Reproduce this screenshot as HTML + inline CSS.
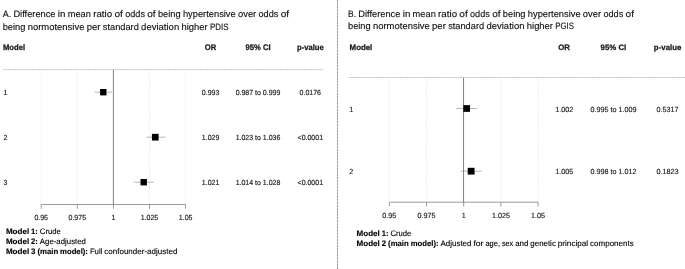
<!DOCTYPE html>
<html lang="en"><head><meta charset="utf-8"><title>Forest plots</title>
<style>
html,body{margin:0;padding:0;background:#fff;}
body{width:685px;height:269px;overflow:hidden;}
svg{display:block;font-family:"Liberation Sans", Arial, Helvetica, sans-serif;text-rendering:geometricPrecision;}
.c{stroke:#000;stroke-width:0.12px;}
.h{stroke:#1a1a1a;stroke-width:0.25px;}
.b{stroke:#1a1a1a;stroke-width:0.15px;}
</style></head>
<body>
<svg width="685" height="269" viewBox="0 0 685 269">
<rect width="685" height="269" fill="#fff"/>
<text class="c" y="17.3" font-size="9.25" fill="#111" xml:space="preserve"><tspan x="2.70" textLength="8.44" lengthAdjust="spacingAndGlyphs">A.</tspan> <tspan x="13.42" textLength="42.12" lengthAdjust="spacingAndGlyphs">Difference</tspan> <tspan x="57.83" textLength="7.61" lengthAdjust="spacingAndGlyphs">in</tspan> <tspan x="67.72" textLength="23.20" lengthAdjust="spacingAndGlyphs">mean</tspan> <tspan x="93.20" textLength="18.98" lengthAdjust="spacingAndGlyphs">ratio</tspan> <tspan x="114.47" textLength="8.39" lengthAdjust="spacingAndGlyphs">of</tspan> <tspan x="125.14" textLength="19.86" lengthAdjust="spacingAndGlyphs">odds</tspan> <tspan x="147.28" textLength="8.39" lengthAdjust="spacingAndGlyphs">of</tspan> <tspan x="157.95" textLength="22.67" lengthAdjust="spacingAndGlyphs">being</tspan> <tspan x="182.90" textLength="52.80" lengthAdjust="spacingAndGlyphs">hypertensive</tspan> <tspan x="237.98" textLength="18.27" lengthAdjust="spacingAndGlyphs">over</tspan> <tspan x="258.53" textLength="19.86" lengthAdjust="spacingAndGlyphs">odds</tspan> <tspan x="280.67" textLength="8.39" lengthAdjust="spacingAndGlyphs">of</tspan></text>
<text class="c" y="29.5" font-size="9.25" fill="#111" xml:space="preserve"><tspan x="2.70" textLength="22.67" lengthAdjust="spacingAndGlyphs">being</tspan> <tspan x="27.65" textLength="56.80" lengthAdjust="spacingAndGlyphs">normotensive</tspan> <tspan x="86.73" textLength="13.83" lengthAdjust="spacingAndGlyphs">per</tspan> <tspan x="102.84" textLength="36.00" lengthAdjust="spacingAndGlyphs">standard</tspan> <tspan x="141.12" textLength="38.09" lengthAdjust="spacingAndGlyphs">deviation</tspan> <tspan x="181.50" textLength="26.19" lengthAdjust="spacingAndGlyphs">higher</tspan> <tspan x="209.97" textLength="18.58" lengthAdjust="spacingAndGlyphs">PDIS</tspan></text>
<text class="h" transform="translate(3.0 50.15) scale(1 1.06)" font-size="7.65" font-weight="bold" text-anchor="start" fill="#1a1a1a">Model</text>
<text class="h" transform="translate(210.5 50.15) scale(1 1.06)" font-size="7.65" font-weight="bold" text-anchor="middle" fill="#1a1a1a">OR</text>
<text class="h" transform="translate(258 50.15) scale(1 1.06)" font-size="7.65" font-weight="bold" text-anchor="middle" fill="#1a1a1a">95% CI</text>
<text class="h" transform="translate(310.4 50.15) scale(1 1.06)" font-size="7.65" font-weight="bold" text-anchor="middle" fill="#1a1a1a">p-value</text>
<line x1="3.0" y1="69.6" x2="323.3" y2="69.6" stroke="#999" stroke-width="0.7" stroke-dasharray="1.1 0.6"/>
<line x1="41.20" y1="70" x2="41.20" y2="204.2" stroke="#dadada" stroke-width="0.5" stroke-dasharray="0.6 0.5"/>
<line x1="77.30" y1="70" x2="77.30" y2="204.2" stroke="#dadada" stroke-width="0.5" stroke-dasharray="0.6 0.5"/>
<line x1="149.50" y1="70" x2="149.50" y2="204.2" stroke="#dadada" stroke-width="0.5" stroke-dasharray="0.6 0.5"/>
<line x1="185.60" y1="70" x2="185.60" y2="204.2" stroke="#dadada" stroke-width="0.5" stroke-dasharray="0.6 0.5"/>
<line x1="113.4" y1="70" x2="113.4" y2="204.2" stroke="#747474" stroke-width="0.9"/>
<line x1="41.20" y1="204.5" x2="185.60" y2="204.5" stroke="#7a7a7a" stroke-width="0.75"/>
<line x1="41.20" y1="204.5" x2="41.20" y2="208.8" stroke="#7a7a7a" stroke-width="0.75"/>
<text class="b" transform="translate(41.20 220.3) scale(1 1.06)" font-size="7.0" font-weight="normal" text-anchor="middle" fill="#1a1a1a">0.95</text>
<line x1="77.30" y1="204.5" x2="77.30" y2="208.8" stroke="#7a7a7a" stroke-width="0.75"/>
<text class="b" transform="translate(77.30 220.3) scale(1 1.06)" font-size="7.0" font-weight="normal" text-anchor="middle" fill="#1a1a1a">0.975</text>
<line x1="113.40" y1="204.5" x2="113.40" y2="208.8" stroke="#7a7a7a" stroke-width="0.75"/>
<text class="b" transform="translate(113.40 220.3) scale(1 1.06)" font-size="7.0" font-weight="normal" text-anchor="middle" fill="#1a1a1a">1</text>
<line x1="149.50" y1="204.5" x2="149.50" y2="208.8" stroke="#7a7a7a" stroke-width="0.75"/>
<text class="b" transform="translate(149.50 220.3) scale(1 1.06)" font-size="7.0" font-weight="normal" text-anchor="middle" fill="#1a1a1a">1.025</text>
<line x1="185.60" y1="204.5" x2="185.60" y2="208.8" stroke="#7a7a7a" stroke-width="0.75"/>
<text class="b" transform="translate(185.60 220.3) scale(1 1.06)" font-size="7.0" font-weight="normal" text-anchor="middle" fill="#1a1a1a">1.05</text>
<text class="b" transform="translate(3.5 94.7) scale(1 1.06)" font-size="7.0" font-weight="normal" text-anchor="start" fill="#1a1a1a">1</text>
<line x1="94.63" y1="92.2" x2="111.96" y2="92.2" stroke="#7c7c7c" stroke-width="0.55"/>
<rect x="100.09" y="89.00" width="6.4" height="6.4" fill="#000"/>
<text class="b" transform="translate(210.6 94.7) scale(1 1.06)" font-size="7.0" font-weight="normal" text-anchor="middle" fill="#1a1a1a">0.993</text>
<text class="b" transform="translate(258 94.7) scale(1 1.06)" font-size="7.0" font-weight="normal" text-anchor="middle" fill="#1a1a1a">0.987 to 0.999</text>
<text class="b" transform="translate(310.3 94.7) scale(1 1.06)" font-size="7.0" font-weight="normal" text-anchor="middle" fill="#1a1a1a">0.0176</text>
<text class="b" transform="translate(3.5 139.7) scale(1 1.06)" font-size="7.0" font-weight="normal" text-anchor="start" fill="#1a1a1a">2</text>
<line x1="146.61" y1="137.2" x2="165.38" y2="137.2" stroke="#7c7c7c" stroke-width="0.55"/>
<rect x="151.93" y="133.85" width="6.7" height="6.7" fill="#000"/>
<text class="b" transform="translate(210.6 139.7) scale(1 1.06)" font-size="7.0" font-weight="normal" text-anchor="middle" fill="#1a1a1a">1.029</text>
<text class="b" transform="translate(258 139.7) scale(1 1.06)" font-size="7.0" font-weight="normal" text-anchor="middle" fill="#1a1a1a">1.023 to 1.036</text>
<text class="b" transform="translate(310.3 139.7) scale(1 1.06)" font-size="7.0" font-weight="normal" text-anchor="middle" fill="#1a1a1a">&lt;0.0001</text>
<text class="b" transform="translate(3.5 184.7) scale(1 1.06)" font-size="7.0" font-weight="normal" text-anchor="start" fill="#1a1a1a">3</text>
<line x1="133.62" y1="182.2" x2="153.83" y2="182.2" stroke="#7c7c7c" stroke-width="0.55"/>
<rect x="140.52" y="179.00" width="6.4" height="6.4" fill="#000"/>
<text class="b" transform="translate(210.6 184.7) scale(1 1.06)" font-size="7.0" font-weight="normal" text-anchor="middle" fill="#1a1a1a">1.021</text>
<text class="b" transform="translate(258 184.7) scale(1 1.06)" font-size="7.0" font-weight="normal" text-anchor="middle" fill="#1a1a1a">1.014 to 1.028</text>
<text class="b" transform="translate(310.3 184.7) scale(1 1.06)" font-size="7.0" font-weight="normal" text-anchor="middle" fill="#1a1a1a">&lt;0.0001</text>
<text class="c" y="234.2" font-size="7.95" fill="#000" xml:space="preserve"><tspan x="5.90" textLength="23.27" lengthAdjust="spacingAndGlyphs" font-weight="bold">Model</tspan> <tspan x="31.12" textLength="6.77" lengthAdjust="spacingAndGlyphs" font-weight="bold">1:</tspan> <tspan x="39.84" textLength="20.97" lengthAdjust="spacingAndGlyphs">Crude</tspan></text>
<text class="c" y="244.1" font-size="7.95" fill="#000" xml:space="preserve"><tspan x="5.90" textLength="23.27" lengthAdjust="spacingAndGlyphs" font-weight="bold">Model</tspan> <tspan x="31.12" textLength="6.77" lengthAdjust="spacingAndGlyphs" font-weight="bold">2:</tspan> <tspan x="39.84" textLength="46.08" lengthAdjust="spacingAndGlyphs">Age-adjusted</tspan></text>
<text class="c" y="254.0" font-size="7.95" fill="#000" xml:space="preserve"><tspan x="5.90" textLength="23.27" lengthAdjust="spacingAndGlyphs" font-weight="bold">Model</tspan> <tspan x="31.12" textLength="4.38" lengthAdjust="spacingAndGlyphs" font-weight="bold">3</tspan> <tspan x="37.45" textLength="20.72" lengthAdjust="spacingAndGlyphs" font-weight="bold">(main</tspan> <tspan x="60.12" textLength="27.81" lengthAdjust="spacingAndGlyphs" font-weight="bold">model):</tspan> <tspan x="89.88" textLength="12.47" lengthAdjust="spacingAndGlyphs">Full</tspan> <tspan x="104.31" textLength="73.05" lengthAdjust="spacingAndGlyphs">confounder-adjusted</tspan></text>
<line x1="337.5" y1="0" x2="337.5" y2="269" stroke="#7c7c7c" stroke-width="0.8" stroke-dasharray="2.4 0.7"/>
<text class="c" y="16.85" font-size="9.25" fill="#111" xml:space="preserve"><tspan x="348.00" textLength="8.03" lengthAdjust="spacingAndGlyphs">B.</tspan> <tspan x="358.31" textLength="42.12" lengthAdjust="spacingAndGlyphs">Difference</tspan> <tspan x="402.72" textLength="7.61" lengthAdjust="spacingAndGlyphs">in</tspan> <tspan x="412.61" textLength="23.20" lengthAdjust="spacingAndGlyphs">mean</tspan> <tspan x="438.09" textLength="18.98" lengthAdjust="spacingAndGlyphs">ratio</tspan> <tspan x="459.36" textLength="8.39" lengthAdjust="spacingAndGlyphs">of</tspan> <tspan x="470.03" textLength="19.86" lengthAdjust="spacingAndGlyphs">odds</tspan> <tspan x="492.17" textLength="8.39" lengthAdjust="spacingAndGlyphs">of</tspan> <tspan x="502.84" textLength="22.67" lengthAdjust="spacingAndGlyphs">being</tspan> <tspan x="527.80" textLength="52.80" lengthAdjust="spacingAndGlyphs">hypertensive</tspan> <tspan x="582.88" textLength="18.27" lengthAdjust="spacingAndGlyphs">over</tspan> <tspan x="603.42" textLength="19.86" lengthAdjust="spacingAndGlyphs">odds</tspan> <tspan x="625.56" textLength="8.39" lengthAdjust="spacingAndGlyphs">of</tspan></text>
<text class="c" y="28.95" font-size="9.25" fill="#111" xml:space="preserve"><tspan x="348.00" textLength="22.67" lengthAdjust="spacingAndGlyphs">being</tspan> <tspan x="372.95" textLength="56.80" lengthAdjust="spacingAndGlyphs">normotensive</tspan> <tspan x="432.03" textLength="13.83" lengthAdjust="spacingAndGlyphs">per</tspan> <tspan x="448.14" textLength="36.00" lengthAdjust="spacingAndGlyphs">standard</tspan> <tspan x="486.42" textLength="38.09" lengthAdjust="spacingAndGlyphs">deviation</tspan> <tspan x="526.80" textLength="26.19" lengthAdjust="spacingAndGlyphs">higher</tspan> <tspan x="555.27" textLength="18.73" lengthAdjust="spacingAndGlyphs">PGIS</tspan></text>
<text class="h" transform="translate(349.6 49.65) scale(1 1.0)" font-size="7.85" font-weight="bold" text-anchor="start" fill="#1a1a1a">Model</text>
<text class="h" transform="translate(564.1 49.65) scale(1 1.0)" font-size="7.85" font-weight="bold" text-anchor="middle" fill="#1a1a1a">OR</text>
<text class="h" transform="translate(613.4 49.65) scale(1 1.0)" font-size="7.85" font-weight="bold" text-anchor="middle" fill="#1a1a1a">95% CI</text>
<text class="h" transform="translate(667.6 49.65) scale(1 1.0)" font-size="7.85" font-weight="bold" text-anchor="middle" fill="#1a1a1a">p-value</text>
<line x1="349.0" y1="77.5" x2="685" y2="77.5" stroke="#999" stroke-width="0.7" stroke-dasharray="1.1 0.6"/>
<line x1="389.30" y1="78" x2="389.30" y2="202.2" stroke="#dadada" stroke-width="0.5" stroke-dasharray="0.6 0.5"/>
<line x1="426.50" y1="78" x2="426.50" y2="202.2" stroke="#dadada" stroke-width="0.5" stroke-dasharray="0.6 0.5"/>
<line x1="500.90" y1="78" x2="500.90" y2="202.2" stroke="#dadada" stroke-width="0.5" stroke-dasharray="0.6 0.5"/>
<line x1="538.10" y1="78" x2="538.10" y2="202.2" stroke="#dadada" stroke-width="0.5" stroke-dasharray="0.6 0.5"/>
<line x1="463.55" y1="78" x2="463.55" y2="202.2" stroke="#747474" stroke-width="0.9"/>
<line x1="389.30" y1="202.2" x2="538.10" y2="202.2" stroke="#7a7a7a" stroke-width="0.75"/>
<line x1="389.30" y1="202.2" x2="389.30" y2="206.39999999999998" stroke="#7a7a7a" stroke-width="0.75"/>
<text class="b" transform="translate(389.30 218.1) scale(1 1.03)" font-size="7.2" font-weight="normal" text-anchor="middle" fill="#1a1a1a">0.95</text>
<line x1="426.50" y1="202.2" x2="426.50" y2="206.39999999999998" stroke="#7a7a7a" stroke-width="0.75"/>
<text class="b" transform="translate(426.50 218.1) scale(1 1.03)" font-size="7.2" font-weight="normal" text-anchor="middle" fill="#1a1a1a">0.975</text>
<line x1="463.70" y1="202.2" x2="463.70" y2="206.39999999999998" stroke="#7a7a7a" stroke-width="0.75"/>
<text class="b" transform="translate(463.70 218.1) scale(1 1.03)" font-size="7.2" font-weight="normal" text-anchor="middle" fill="#1a1a1a">1</text>
<line x1="500.90" y1="202.2" x2="500.90" y2="206.39999999999998" stroke="#7a7a7a" stroke-width="0.75"/>
<text class="b" transform="translate(500.90 218.1) scale(1 1.03)" font-size="7.2" font-weight="normal" text-anchor="middle" fill="#1a1a1a">1.025</text>
<line x1="538.10" y1="202.2" x2="538.10" y2="206.39999999999998" stroke="#7a7a7a" stroke-width="0.75"/>
<text class="b" transform="translate(538.10 218.1) scale(1 1.03)" font-size="7.2" font-weight="normal" text-anchor="middle" fill="#1a1a1a">1.05</text>
<text class="b" transform="translate(349.2 111.5) scale(1 1.03)" font-size="7.2" font-weight="normal" text-anchor="start" fill="#1a1a1a">1</text>
<line x1="456.26" y1="108.5" x2="477.09" y2="108.5" stroke="#7c7c7c" stroke-width="0.55"/>
<rect x="463.33" y="105.15" width="6.7" height="6.7" fill="#000"/>
<text class="b" transform="translate(564.3 111.5) scale(1 1.03)" font-size="7.2" font-weight="normal" text-anchor="middle" fill="#1a1a1a">1.002</text>
<text class="b" transform="translate(613.5 111.5) scale(1 1.03)" font-size="7.2" font-weight="normal" text-anchor="middle" fill="#1a1a1a">0.995 to 1.009</text>
<text class="b" transform="translate(667.6 111.5) scale(1 1.03)" font-size="7.2" font-weight="normal" text-anchor="middle" fill="#1a1a1a">0.5317</text>
<text class="b" transform="translate(349.2 174.2) scale(1 1.03)" font-size="7.2" font-weight="normal" text-anchor="start" fill="#1a1a1a">2</text>
<line x1="460.72" y1="171.2" x2="481.56" y2="171.2" stroke="#7c7c7c" stroke-width="0.55"/>
<rect x="467.74" y="167.80" width="6.8" height="6.8" fill="#000"/>
<text class="b" transform="translate(564.3 174.2) scale(1 1.03)" font-size="7.2" font-weight="normal" text-anchor="middle" fill="#1a1a1a">1.005</text>
<text class="b" transform="translate(613.5 174.2) scale(1 1.03)" font-size="7.2" font-weight="normal" text-anchor="middle" fill="#1a1a1a">0.998 to 1.012</text>
<text class="b" transform="translate(667.6 174.2) scale(1 1.03)" font-size="7.2" font-weight="normal" text-anchor="middle" fill="#1a1a1a">0.1823</text>
<text class="c" y="236.2" font-size="7.95" fill="#000" xml:space="preserve"><tspan x="356.50" textLength="23.27" lengthAdjust="spacingAndGlyphs" font-weight="bold">Model</tspan> <tspan x="381.72" textLength="6.77" lengthAdjust="spacingAndGlyphs" font-weight="bold">1:</tspan> <tspan x="390.44" textLength="20.97" lengthAdjust="spacingAndGlyphs">Crude</tspan></text>
<text class="c" y="246.2" font-size="7.95" fill="#000" xml:space="preserve"><tspan x="356.50" textLength="23.27" lengthAdjust="spacingAndGlyphs" font-weight="bold">Model</tspan> <tspan x="381.72" textLength="4.38" lengthAdjust="spacingAndGlyphs" font-weight="bold">2</tspan> <tspan x="388.05" textLength="20.72" lengthAdjust="spacingAndGlyphs" font-weight="bold">(main</tspan> <tspan x="410.72" textLength="27.81" lengthAdjust="spacingAndGlyphs" font-weight="bold">model):</tspan> <tspan x="440.48" textLength="31.02" lengthAdjust="spacingAndGlyphs">Adjusted</tspan> <tspan x="473.45" textLength="10.02" lengthAdjust="spacingAndGlyphs">for</tspan> <tspan x="485.42" textLength="14.58" lengthAdjust="spacingAndGlyphs">age,</tspan> <tspan x="501.95" textLength="11.28" lengthAdjust="spacingAndGlyphs">sex</tspan> <tspan x="515.19" textLength="13.20" lengthAdjust="spacingAndGlyphs">and</tspan> <tspan x="530.34" textLength="25.52" lengthAdjust="spacingAndGlyphs">genetic</tspan> <tspan x="557.81" textLength="30.33" lengthAdjust="spacingAndGlyphs">principal</tspan> <tspan x="590.09" textLength="43.64" lengthAdjust="spacingAndGlyphs">components</tspan></text>
</svg>
</body></html>
